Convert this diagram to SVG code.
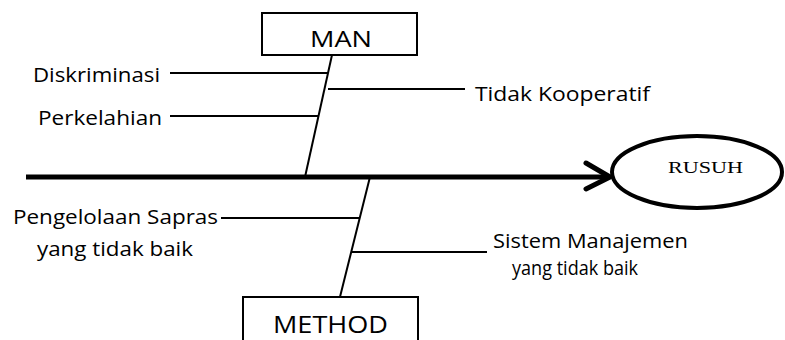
<svg xmlns="http://www.w3.org/2000/svg" width="785" height="340" viewBox="0 0 785 340">
<style>
.t{font-family:"Open Sans","Noto Sans","Liberation Sans",sans-serif;font-size:20px;fill:#000}
.b{font-family:"Open Sans","Noto Sans","Liberation Sans",sans-serif;fill:#000}
.ln{stroke:#000;stroke-width:2;fill:none}
.box{stroke:#000;stroke-width:2;fill:#fff}
</style>
<rect width="785" height="340" fill="#fff"/>
<g id="connectors">
<line class="ln" x1="305" y1="177" x2="332" y2="55"/>
<line class="ln" x1="370" y1="177" x2="340" y2="297"/>
<line class="ln" x1="170" y1="73" x2="328" y2="73"/>
<line class="ln" x1="170" y1="116" x2="318" y2="116"/>
<line class="ln" x1="328" y1="89" x2="465" y2="89"/>
<line class="ln" x1="221" y1="218" x2="359" y2="218"/>
<line class="ln" x1="351" y1="252" x2="487" y2="252"/>
<line x1="26" y1="177" x2="608" y2="177" stroke="#000" stroke-width="5"/>
<polyline points="586,163 610,177 586,189" fill="none" stroke="#000" stroke-width="5" stroke-linecap="round" stroke-linejoin="round"/>
</g>
<g id="man">
<rect class="box" x="262" y="13" width="155" height="42"/>
<text class="b" x="310" y="47" font-size="21" textLength="62" lengthAdjust="spacingAndGlyphs">MAN</text>
</g>
<g id="method">
<rect class="box" x="243" y="297" width="175" height="60"/>
<text class="b" x="273" y="333" font-size="24" textLength="115" lengthAdjust="spacingAndGlyphs">METHOD</text>
</g>
<g id="rusuh">
<ellipse cx="697" cy="172" rx="85" ry="36" fill="#fff" stroke="#000" stroke-width="4"/>
<text x="668" y="173" font-family="'Liberation Serif',serif" font-size="17" textLength="75" lengthAdjust="spacingAndGlyphs">RUSUH</text>
</g>
<g id="cause-diskriminasi"><text class="t" x="33" y="82" textLength="127" lengthAdjust="spacingAndGlyphs">Diskriminasi</text></g>
<g id="cause-perkelahian"><text class="t" x="38" y="125" textLength="124" lengthAdjust="spacingAndGlyphs">Perkelahian</text></g>
<g id="cause-tidak-kooperatif"><text class="t" x="475" y="101" textLength="175" lengthAdjust="spacingAndGlyphs">Tidak Kooperatif</text></g>
<g id="cause-pengelolaan"><text class="t" x="13" y="224" textLength="205" lengthAdjust="spacingAndGlyphs">Pengelolaan Sapras</text><text class="t" x="37" y="256" textLength="156" lengthAdjust="spacingAndGlyphs">yang tidak baik</text></g>
<g id="cause-sistem"><text class="t" x="493" y="248" textLength="195" lengthAdjust="spacingAndGlyphs">Sistem Manajemen</text><text class="t" x="512" y="275" textLength="126" lengthAdjust="spacingAndGlyphs">yang tidak baik</text></g>
</svg>
